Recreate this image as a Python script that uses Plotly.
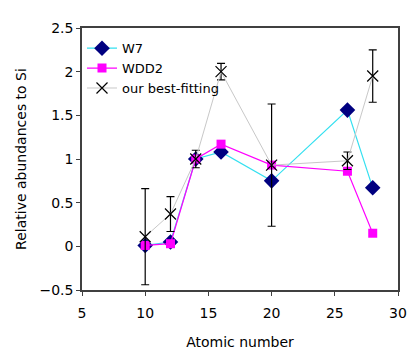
import plotly.graph_objects as go

# atomic numbers of the elements
z = [10, 12, 14, 16, 20, 26, 28]

# model abundances relative to Si
w7 = [0.01, 0.05, 1.0, 1.08, 0.75, 1.56, 0.67]
wdd2 = [0.01, 0.03, 1.0, 1.17, 0.93, 0.86, 0.15]

# our best fit, with error bars
best = [0.11, 0.37, 1.0, 2.0, 0.93, 0.98, 1.95]
best_err = [0.55, 0.20, 0.10, 0.095, 0.70, 0.10, 0.30]

font = "DejaVu Sans"

fig = go.Figure()
fig.add_trace(go.Scatter(
    x=z, y=w7, name="W7", mode="lines+markers",
    line=dict(color="#33e0f0", width=1.2),
    marker=dict(symbol="diamond", size=12, color="#000080"),
))
fig.add_trace(go.Scatter(
    x=z, y=wdd2, name="WDD2", mode="lines+markers",
    line=dict(color="#ff00ff", width=1.2),
    marker=dict(symbol="square", size=9, color="#ff00ff"),
))
fig.add_trace(go.Scatter(
    x=z, y=best, name="our best-fitting", mode="lines+markers",
    line=dict(color="#c8c8c8", width=1),
    marker=dict(symbol="x-thin", size=11, color="black",
                line=dict(color="black", width=1.2)),
    error_y=dict(type="data", array=best_err, visible=True,
                 color="black", thickness=1.2, width=4),
))

# the page body adds an 8px offset, so margins are trimmed to match
fig.update_layout(
    width=420, height=360,
    margin=dict(l=67, r=30, t=13, b=78),
    paper_bgcolor="white", plot_bgcolor="white",
    font=dict(family=font, size=14, color="black"),
    showlegend=True,
    legend=dict(x=0.0, y=0.98, xanchor="left", yanchor="top",
                bgcolor="rgba(0,0,0,0)", font=dict(size=13),
                itemwidth=30, tracegroupgap=0),
)
fig.update_xaxes(
    range=[5, 30], dtick=5, showgrid=False, zeroline=False,
    showline=True, linecolor="#404040", linewidth=1.5, mirror=True,
    ticks="outside", ticklen=4, tickcolor="#404040", ticklabelstandoff=5,
    title=dict(text="Atomic number", font=dict(size=14), standoff=18),
)
fig.update_yaxes(
    range=[-0.5, 2.5], dtick=0.5, showgrid=False, zeroline=False,
    showline=True, linecolor="#404040", linewidth=1.5, mirror=True,
    ticks="outside", ticklen=4, tickcolor="#404040",
    title=dict(text="Relative abundances to Si", font=dict(size=14), standoff=10),
)

fig.write_html("out.html")
